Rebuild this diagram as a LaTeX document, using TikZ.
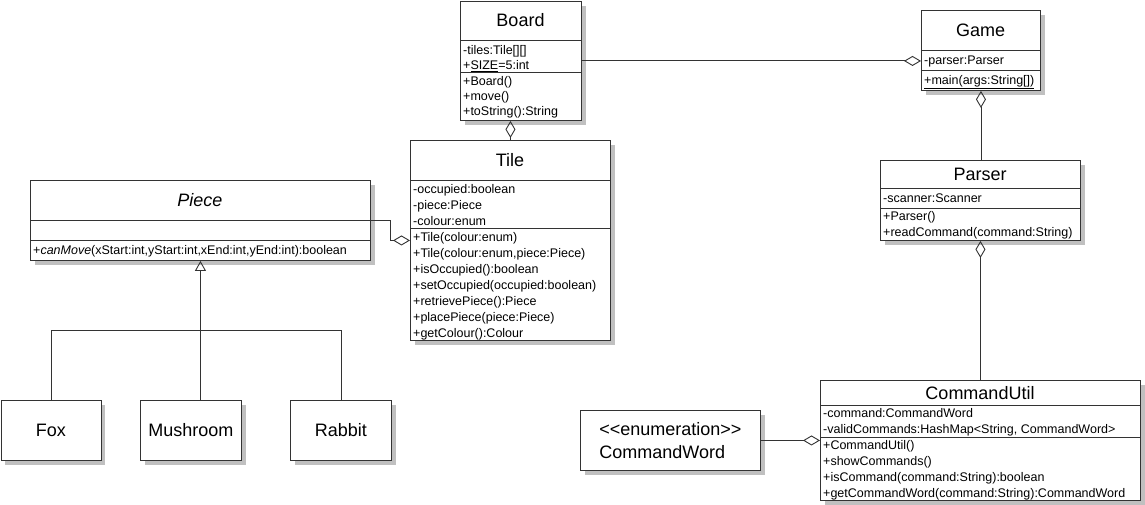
\documentclass[tikz,border=0pt]{standalone}
\usepackage{fontspec}
\newfontfamily\umlfont{Liberation Sans}
\usetikzlibrary{positioning, calc, arrows.meta}
\definecolor{umlInk}{HTML}{333333}
\definecolor{umlShadow}{HTML}{C0C0C0}
\tikzset{
    umlClass/.style={
        rectangle,
        draw=umlInk,
        fill=white,
        line width=0.9pt,
        anchor=north west,
        inner sep=0pt,
        align=left,
        font=\umlfont\fontsize{18}{23}\selectfont,
        preaction={fill=umlShadow, draw=none, transform canvas={xshift=4.5pt, yshift=-4.5pt}}
    },
    umlTitle/.style={
        inner sep=0pt,
        text height=13pt,
        text depth=0pt,
        font=\umlfont\fontsize{18}{22}\selectfont
    },
    umlMember/.style={
        anchor=west,
        inner sep=0pt,
        text height=9pt,
        text depth=0pt,
        font=\umlfont\fontsize{12.5}{16}\selectfont
    },
    % Compartments and connectors
    umlSep/.style={draw=umlInk, line width=0.9pt},
    umlLink/.style={draw=umlInk, line width=0.9pt},
    umlAgg/.style={umlLink, -{Diamond[open, length=17pt, width=10pt]}},
    umlAggRev/.style={umlLink, {Diamond[open, length=17pt, width=10pt]}-},
    umlInherit/.style={umlLink, -{Triangle[open, length=10pt, width=11pt]}}
}

\begin{document}
\begin{tikzpicture}[x=1pt, y=-1pt]
\useasboundingbox (0,0) rectangle (1145,505);

% Board
\node[umlClass, minimum width=121pt, minimum height=119pt] (board) at (460,1) {};
\node[umlTitle] (board-title) at (520.5,20.5) {Board};
\draw[umlSep] (460,40) -- (581,40);
\draw[umlSep] (460,72) -- (581,72);
\foreach \m [count=\i from 0] in {{-tiles:Tile[][]}, {+\underline{SIZE}=5:int}}
  \node[umlMember] (board-a\i) at (463, 50+15*\i) {\m};
\foreach \m [count=\i from 0] in {{+Board()}, {+move()}, {+toString():String}}
  \node[umlMember] (board-o\i) at (463, 81+15*\i) {\m};

% Game
\node[umlClass, minimum width=119pt, minimum height=80pt] (game) at (921,10) {};
\node[umlTitle] (game-title) at (980.5,30) {Game};
\draw[umlSep] (921,50) -- (1040,50);
\draw[umlSep] (921,70) -- (1040,70);
\node[umlMember] (game-a0) at (924,60) {-parser:Parser};
\node[umlMember] (game-o0) at (924,80) {\underline{+main(args:String[])}};

% Tile
\node[umlClass, minimum width=200pt, minimum height=200pt] (tile) at (410,140) {};
\node[umlTitle] (tile-title) at (510,160) {Tile};
\draw[umlSep] (410,180) -- (610,180);
\draw[umlSep] (410,228) -- (610,228);
\foreach \m [count=\i from 0] in {{-occupied:boolean}, {-piece:Piece}, {-colour:enum}}
  \node[umlMember] (tile-a\i) at (413, 189+16*\i) {\m};
\foreach \m [count=\i from 0] in {{+Tile(colour:enum)}, {+Tile(colour:enum,piece:Piece)},
    {+isOccupied():boolean}, {+setOccupied(occupied:boolean)}, {+retrievePiece():Piece},
    {+placePiece(piece:Piece)}, {+getColour():Colour}}
  \node[umlMember] (tile-o\i) at (413, 237+16*\i) {\m};

% Piece
\node[umlClass, minimum width=340pt, minimum height=80pt] (piece) at (30,180) {};
\node[umlTitle] (piece-title) at (200,200) {\textit{Piece}};
\draw[umlSep] (30,220) -- (370,220);
\draw[umlSep] (30,240) -- (370,240);
\node[umlMember] (piece-o0) at (33,250) {+\textit{canMove}(xStart:int,yStart:int,xEnd:int,yEnd:int):boolean};

% Parser
\node[umlClass, minimum width=200pt, minimum height=80pt] (parser) at (880,160) {};
\node[umlTitle] (parser-title) at (980,174) {Parser};
\draw[umlSep] (880,188) -- (1080,188);
\draw[umlSep] (880,208) -- (1080,208);
\node[umlMember] (parser-a0) at (883,198) {-scanner:Scanner};
\foreach \m [count=\i from 0] in {{+Parser()}, {+readCommand(command:String)}}
  \node[umlMember] (parser-o\i) at (883, 216+16*\i) {\m};

% CommandUtil
\node[umlClass, minimum width=320pt, minimum height=120pt] (cmdutil) at (820,380) {};
\node[umlTitle] (cmdutil-title) at (980,392.5) {CommandUtil};
\draw[umlSep] (820,405) -- (1140,405);
\draw[umlSep] (820,437) -- (1140,437);
\foreach \m [count=\i from 0] in {{-command:CommandWord}, {-validCommands:HashMap<String, CommandWord>}}
  \node[umlMember] (cmdutil-a\i) at (823, 413+16*\i) {\m};
\foreach \m [count=\i from 0] in {{+CommandUtil()}, {+showCommands()},
    {+isCommand(command:String):boolean}, {+getCommandWord(command:String):CommandWord}}
  \node[umlMember] (cmdutil-o\i) at (823, 445+16*\i) {\m};

% CommandWord
\node[umlClass, minimum width=180pt, minimum height=60pt] (cmdword) at (580,410) {<<enumeration>>\\CommandWord};

% subclasses
\node[umlClass, minimum width=100pt, minimum height=60pt] (fox) at (0.5,400) {Fox};
\node[umlClass, minimum width=101pt, minimum height=60pt] (mushroom) at (140,400) {Mushroom};
\node[umlClass, minimum width=101pt, minimum height=60pt] (rabbit) at (290,400) {Rabbit};

% aggregations
\draw[umlAgg] (board.east) -- (board.east -| game.west);
\draw[umlAggRev] (board.south -| tile.north) -- (tile.north);
\draw[umlAgg] (piece.east) -- ++(20,0) |- (tile.west);
\draw[umlAggRev] (game.south) -- (game.south |- parser.north);
\draw[umlAggRev] (parser.south) -- (cmdutil.north);
\draw[umlAgg] (cmdword.east) -- (cmdutil.west);

% inheritance
\coordinate (fork) at ($(piece.south)+(0,70)$);
\draw[umlLink] (fox.north) |- (fork) -| (rabbit.north);
\draw[umlInherit] (mushroom.north -| fork) -- (piece.south);
\end{tikzpicture}
\end{document}
